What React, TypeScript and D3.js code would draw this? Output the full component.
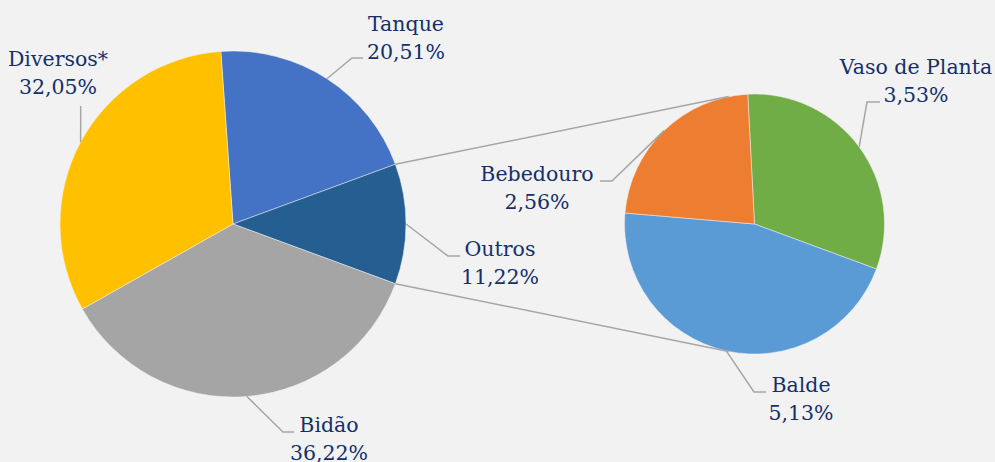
import React from "react";
import * as d3 from "d3";

const mainLabels = ["Tanque", "Outros", "Bidão", "Diversos*"];
const mainValues = [20.51, 11.22, 36.22, 32.05];
const mainColors = ["#4472C4", "#255E91", "#A5A5A5", "#FFC000"];

const subLabels = ["Vaso de Planta", "Balde", "Bebedouro"];
const subValues = [3.53, 5.13, 2.56];
const subColors = ["#70AD47", "#5B9BD5", "#ED7D31"];

const W = 995;
const H = 462;
const BG = "#F2F2F2";
const TEXT = "#14306A";
const LINE = "#A6A6A6";
const FONT = '"DejaVu Serif"';
const FS = 20.5;

const main = { cx: 233, cy: 224, r: 173 };
const sub = { cx: 754.5, cy: 224, r: 130 };

// label layout: center x, first baseline, leader elbow and end
const layout: Record<string, { tx: number; b1: number; pts: [number, number][] }> = {
  "Diversos*": { tx: 58, b1: 66, pts: [[80.7, 106]] },
  Tanque: { tx: 406, b1: 31, pts: [[352, 58], [363, 58]] },
  Outros: { tx: 500, b1: 256, pts: [[448, 256], [460, 256]] },
  "Bidão": { tx: 329, b1: 432, pts: [[283, 432], [294, 432]] },
  "Vaso de Planta": { tx: 916, b1: 74, pts: [[867, 102], [880, 102]] },
  Bebedouro: { tx: 537, b1: 181, pts: [[612, 181], [600, 181]] },
  Balde: { tx: 801, b1: 392, pts: [[754, 392], [766, 392]] },
};

const fmt = (v: number) => v.toFixed(2).replace(".", ",") + "%";
const deg = Math.PI / 180;

function tangent(px: number, py: number, c: { cx: number; cy: number; r: number }, sign: number) {
  const dx = px - c.cx, dy = py - c.cy;
  const d = Math.sqrt(dx * dx + dy * dy);
  const th = Math.atan2(dy, dx);
  const a = th + sign * Math.acos(c.r / d);
  return [c.cx + c.r * Math.cos(a), c.cy + c.r * Math.sin(a)];
}

export default function App() {
  const total = d3.sum(mainValues);
  const otherIdx = 1;
  const otherAng = (mainValues[otherIdx] / total) * 2 * Math.PI;
  const tanqueAng = (mainValues[0] / total) * 2 * Math.PI;
  const mainStart = Math.PI / 2 - otherAng / 2 - tanqueAng;

  const mainPie = d3.pie<number>().sort(null).startAngle(mainStart).endAngle(mainStart + 2 * Math.PI)(mainValues);
  const subStart = -3 * deg;
  const subPie = d3.pie<number>().sort(null).startAngle(subStart).endAngle(subStart + 2 * Math.PI)(subValues);

  const mainArc = d3.arc<d3.PieArcDatum<number>>().innerRadius(0).outerRadius(main.r);
  const subArc = d3.arc<d3.PieArcDatum<number>>().innerRadius(0).outerRadius(sub.r);

  const o = mainPie[otherIdx];
  const p1: [number, number] = [main.cx + main.r * Math.sin(o.startAngle), main.cy - main.r * Math.cos(o.startAngle)];
  const p2: [number, number] = [main.cx + main.r * Math.sin(o.endAngle), main.cy - main.r * Math.cos(o.endAngle)];
  const t1 = tangent(p1[0], p1[1], sub, 1);
  const t2 = tangent(p2[0], p2[1], sub, -1);

  const labelFor = (name: string, value: number, a: d3.PieArcDatum<number>, c: { cx: number; cy: number; r: number }) => {
    const mid = (a.startAngle + a.endAngle) / 2;
    const sx = c.cx + c.r * Math.sin(mid);
    const sy = c.cy - c.r * Math.cos(mid);
    const L = layout[name];
    const pts: [number, number][] = [[sx, sy], ...L.pts];
    return (
      <g key={name}>
        <path d={d3.line()(pts) || ""} fill="none" stroke={LINE} strokeWidth={1.5} />
        <text x={L.tx} y={L.b1} textAnchor="middle" fill={TEXT} style={{ fontFamily: FONT, fontSize: FS }}>
          <tspan x={L.tx} y={L.b1}>{name}</tspan>
          <tspan x={L.tx} y={L.b1 + 28}>{fmt(value)}</tspan>
        </text>
      </g>
    );
  };

  return (
    <svg width={W} height={H} style={{ position: "absolute", left: 0, top: 0 }}>
      <rect width={W} height={H} fill={BG} />
      <g transform={`translate(${main.cx},${main.cy})`}>
        {mainPie.map((a, i) => (
          <path key={i} d={mainArc(a) || ""} fill={mainColors[i]} stroke={BG} strokeWidth={0.5} />
        ))}
      </g>
      <g transform={`translate(${sub.cx},${sub.cy})`}>
        {subPie.map((a, i) => (
          <path key={i} d={subArc(a) || ""} fill={subColors[i]} stroke={BG} strokeWidth={0.5} />
        ))}
      </g>
      <line x1={p1[0]} y1={p1[1]} x2={t1[0]} y2={t1[1]} stroke={LINE} strokeWidth={1.5} />
      <line x1={p2[0]} y1={p2[1]} x2={t2[0]} y2={t2[1]} stroke={LINE} strokeWidth={1.5} />
      {mainPie.map((a, i) => labelFor(mainLabels[i], mainValues[i], a, main))}
      {subPie.map((a, i) => labelFor(subLabels[i], subValues[i], a, sub))}
    </svg>
  );
}
